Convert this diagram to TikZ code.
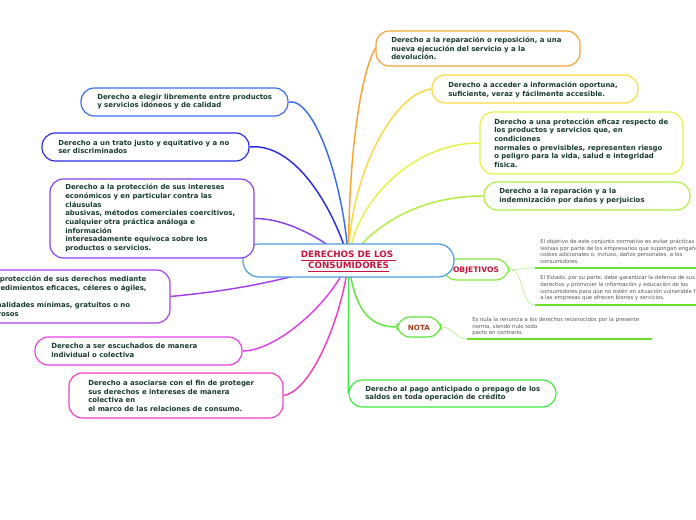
\documentclass[tikz,border=0pt]{standalone}
\usepackage{fontspec}
\setmainfont{DejaVu Sans}
\usetikzlibrary{backgrounds}
\definecolor{txtc}{HTML}{173C2B}
\definecolor{titlec}{HTML}{C8143C}
\definecolor{notac}{HTML}{A5401C}
\definecolor{grayc}{HTML}{555555}
\definecolor{cblue}{HTML}{4D9DE0}
\definecolor{corange}{HTML}{F7A335}
\definecolor{cyellow}{HTML}{FAD943}
\definecolor{cyg}{HTML}{E5F244}
\definecolor{clime}{HTML}{AEEF3F}
\definecolor{cbluesix}{HTML}{3B6DF2}
\definecolor{cbluesev}{HTML}{2B2BE3}
\definecolor{cpurp}{HTML}{8A3FF0}
\definecolor{cviol}{HTML}{A43FF2}
\definecolor{cmag}{HTML}{E33FE8}
\definecolor{cpink}{HTML}{F23FC2}
\definecolor{cgreen}{HTML}{3FE83F}
\definecolor{cobj}{HTML}{7EEA3A}
\definecolor{cnota}{HTML}{5EE63A}
\definecolor{cline}{HTML}{6BE02C}
\definecolor{csub}{HTML}{B5F28A}
\begin{document}
\begin{tikzpicture}[x=0.75pt,y=-0.75pt,
  box/.style={draw=#1, line width=0.9pt, rounded corners=10pt, fill=white, inner sep=0pt},
  sz/.style 2 args={minimum width=#1*0.75pt, minimum height=#2*0.75pt},
  btxt/.style={text=txtc, font=\bfseries\fontsize{5.2}{6.5}\selectfont, align=left, inner sep=0pt, anchor=west},
  gtxt/.style={text=grayc, font=\fontsize{4}{5}\selectfont, align=left, inner sep=0pt, anchor=west},
  con/.style={draw=#1, line width=1.1pt},
  subcon/.style={draw=csub, line width=0.5pt},
  uline/.style={draw=cline, line width=1.5pt}]
\useasboundingbox (0,0) rectangle (696,520);

% objetivos box (behind central)
\node[box=cobj, sz={66}{21}] (obj) at (476,269.5) {};
\node[text=titlec, font=\bfseries\fontsize{5.7}{6}\selectfont, inner sep=0pt] (objt) at (476,270) {OBJETIVOS};

% central
\node[box=cblue, rounded corners=12pt, sz={211}{33}] (c) at (348.5,260.5) {};
\node[text=titlec, font=\bfseries\fontsize{6.6}{8.25}\selectfont, align=center, inner sep=0pt] (ct) at (348.5,261.5)
  {\underline{DERECHOS DE LOS }\\\underline{CONSUMIDORES}};

% right boxes
\node[box=corange, sz={204}{35}] (b2) at (478,48.5) {};
\node[btxt] (t2) at (391,48.5) {Derecho a la reparación o reposición, a una\\nueva ejecución del servicio y a la\\devolución.};
\node[box=cyellow, sz={206}{28}] (b3) at (535,89) {};
\node[btxt] (t3) at (448,90) {Derecho a acceder a información oportuna,\\suficiente, veraz y fácilmente accesible.};
\node[box=cyg, sz={203}{62}] (b4) at (581.5,143) {};
\node[btxt] (t4) at (494,143) {Derecho a una protección eficaz respecto de\\los productos y servicios que, en\\condiciones\\normales o previsibles, representen riesgo\\o peligro para la vida, salud e integridad\\física.};
\node[box=clime, sz={206}{28}] (b5) at (587,196) {};
\node[btxt] (t5) at (499,196) {Derecho a la reparación y a la\\indemnización por daños y perjuicios};

% left boxes
\node[box=cbluesix, sz={207}{28}] (b6) at (184.5,102) {};
\node[btxt] (t6) at (97,101.5) {Derecho a elegir libremente entre productos\\y servicios idóneos y de calidad};
\node[box=cbluesev, sz={207}{28}] (b7) at (145.5,147) {};
\node[btxt] (t7) at (58,147) {Derecho a un trato justo y equitativo y a no\\ser discriminados};
\node[box=cpurp, sz={204}{79}] (b8) at (152,218.5) {};
\node[btxt] (t8) at (65,218) {Derecho a la protección de sus intereses\\económicos y en particular contra las\\cláusulas\\abusivas, métodos comerciales coercitivos,\\cualquier otra práctica análoga e\\información\\interesadamente equívoca sobre los\\productos o servicios.};
\node[box=cviol, sz={210}{53}] (b9) at (65,296.5) {};
\node[btxt] (t9) at (-17,296.5) {a la protección de sus derechos mediante\\procedimientos eficaces, céleres o ágiles,\\con\\formalidades mínimas, gratuitos o no\\onerosos};
\node[box=cmag, sz={207}{28}] (b10) at (138.5,351) {};
\node[btxt] (t10) at (51,350.5) {Derecho a ser escuchados de manera\\individual o colectiva};
\node[box=cpink, sz={214}{45}] (b11) at (176,395.5) {};
\node[btxt] (t11) at (88,396) {Derecho a asociarse con el fin de proteger\\sus derechos e intereses de manera\\colectiva en\\el marco de las relaciones de consumo.};
\node[box=cgreen, sz={207}{27}] (b12) at (452.5,393.5) {};
\node[btxt] (t12) at (365,393.5) {Derecho al pago anticipado o prepago de los\\saldos en toda operación de crédito};

% nota
\node[box=cnota, sz={44}{20}] (nota) at (419,327) {};
\node[text=notac, font=\bfseries\fontsize{5.4}{6}\selectfont, inner sep=0pt] (notat) at (419,327.5) {NOTA};

% notes
\node[gtxt] (o1) at (540,251.5) {El objetivo de este conjunto normativo es evitar prácticas\\lesivas por parte de los empresarios que supongan engaños,\\costes adicionales o, incluso, daños personales, a los\\consumidores.};
\node[gtxt] (o2) at (540,288.5) {El Estado, por su parte, debe garantizar la defensa de sus\\derechos y promover la información y educación de los\\consumidores para que no estén en situación vulnerable frente\\a las empresas que ofrecen bienes y servicios.};
\node[gtxt] (n1) at (472,326.7) {Es nula la renuncia a los derechos reconocidos por la presente\\norma, siendo nulo todo\\pacto en contrario.};
\coordinate (u1s) at (535,268);
\coordinate (u1e) at (700,268);
\coordinate (u2s) at (535,305);
\coordinate (u2e) at (700,305);
\coordinate (u3s) at (467,339);
\coordinate (u3e) at (652,339);
\draw[uline] (u1s) -- (u1e);
\draw[uline] (u2s) -- (u2e);
\draw[uline] (u3s) -- (u3e);

\begin{pgfonlayer}{background}
\draw[con=cobj] (c.center) -- (obj.west);
\draw[con=corange] (c.center) .. controls +(0,-130) and +(-10,15) .. (b2.west);
\draw[con=cyellow] (c.center) .. controls +(0,-80) and +(-40,5) .. (b3.west);
\draw[con=cyg] (c.center) .. controls +(5,-55) and +(-70,0) .. (b4.west);
\draw[con=clime] (c.center) .. controls +(20,-30) and +(-70,0) .. (b5.west);
\draw[con=cbluesix] (c.center) .. controls +(-5,-80) and +(25,-5) .. (b6.east);
\draw[con=cbluesev] (c.center) .. controls +(-10,-40) and +(50,-5) .. (b7.east);
\draw[con=cpurp] (c.center) .. controls +(-30,-25) and +(30,0) .. (b8.east);
\draw[con=cviol] (c.center) .. controls +(-80,25) and +(50,-5) .. (b9.east);
\draw[con=cmag] (c.center) .. controls +(-15,40) and +(35,0) .. (b10.east);
\draw[con=cpink] (c.center) .. controls +(-5,50) and +(30,-5) .. (b11.east);
\draw[con=cgreen] (c.center) .. controls +(0,80) and +(0,-20) .. (b12.west);
\draw[con=cnota] (c.center) .. controls +(5,45) and +(-30,0) .. (nota.west);
\draw[subcon] (obj.east) .. controls +(15,0) and +(-12,0) .. (u1s);
\draw[subcon] (obj.east) .. controls +(15,0) and +(-15,0) .. (u2s);
\draw[subcon] (nota.east) .. controls +(12,0) and +(-12,0) .. (u3s);
\end{pgfonlayer}
\end{tikzpicture}
\end{document}
